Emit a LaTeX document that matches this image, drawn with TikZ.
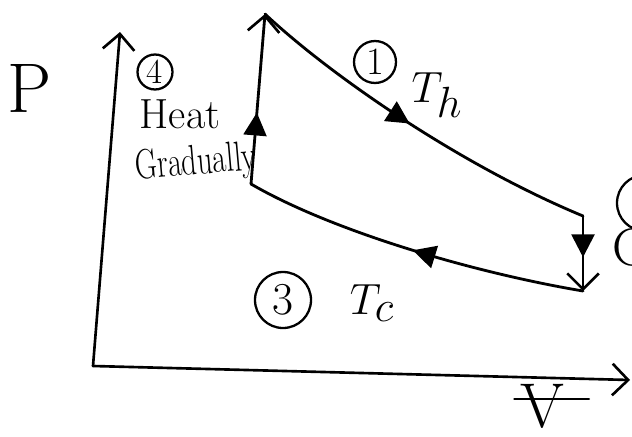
\documentclass[tikz,border=0pt]{standalone}
\usepackage{tikz}
\usetikzlibrary{arrows.meta, decorations.markings, positioning}

\begin{document}
\begin{tikzpicture}[x=0.02cm, y=-0.02cm,
  axis/.style={line width=1.5pt, line cap=round},
  cyc/.style={line width=1.6pt, line cap=round},
  midarr/.style={postaction={decorate}, decoration={markings, mark=at position #1 with {\arrow{Triangle[length=13pt,width=13pt]}}}},
  barb/.style={-{Straight Barb[length=9pt,width=18pt,line width=1.5pt]}},
  lbl/.style={inner sep=0pt, font=\fontsize{24}{28}\selectfont},
  num/.style={circle, draw, line width=1.3pt, inner sep=0pt, font=\fontsize{20}{24}\selectfont}
]
\useasboundingbox (0,0) rectangle (632,436);
\clip (0,0) rectangle (632,436);
% axes
\coordinate (o) at (93,366);
\coordinate (ptop) at (120,32);
\coordinate (vend) at (630,380);
\draw[axis, barb] (o) -- (ptop);
\draw[axis, barb] (o) -- (vend);
\node[lbl, font=\fontsize{40}{44}\selectfont] (plab) at (30,88) {P};
\node[lbl, font=\fontsize{36}{40}\selectfont] (vlab) at (542,406) {V};
\draw[axis] ([xshift=-3pt,yshift=4pt]vlab.west) -- ([xshift=14pt,yshift=4pt]vlab.east);
% cycle corners
\coordinate (tl) at (265,14);
\coordinate (bl) at (251,184);
\coordinate (tr) at (583,216);
\coordinate (br) at (583,291);
\draw[cyc, midarr=0.48] (tl) .. controls (330,75) and (460,165) .. (tr);
\draw[cyc, barb, midarr=0.55] (tr) -- (br);
\draw[cyc, midarr=0.5] (br) .. controls (470,272) and (330,230) .. (bl);
\draw[cyc, barb, midarr=0.42] (bl) -- (tl);
% Labels
\node[num, minimum size=0.84cm, font=\fontsize{22}{26}\selectfont] (n1) at (375,62) {1};
\node[lbl, font=\fontsize{34}{38}\selectfont] (th) at (437,95) {$T_h$};
\node[num, minimum size=0.7cm] (n4) at (155,72) {4};
\node[lbl] (heat) at (180,114) {Heat};
\node[lbl, rotate=5] (grad) at (196,164) {\scalebox{0.72}[1]{Gradually}};
\node[num, minimum size=1.12cm, font=\fontsize{26}{30}\selectfont] (n3) at (283,300) {3};
\node[lbl, font=\fontsize{34}{38}\selectfont] (tc) at (372,303) {$T_c$};
\node[num, minimum size=1.12cm, font=\fontsize{26}{30}\selectfont] (n2) at (645,203) {2};
\node[lbl, font=\fontsize{30}{34}\selectfont, anchor=west] (cool) at (612,247) {C};
\end{tikzpicture}
\end{document}
